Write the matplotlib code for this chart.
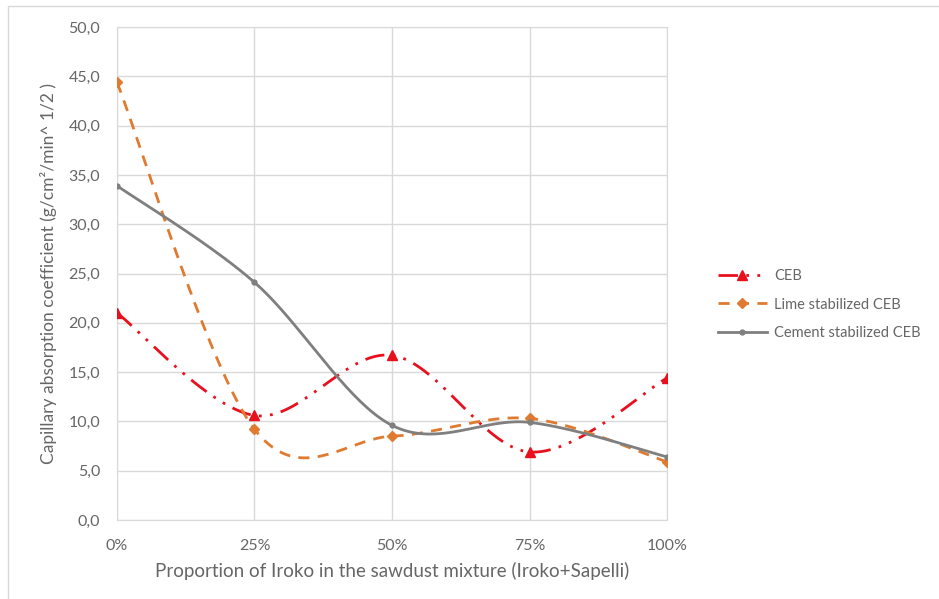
import numpy as np
import matplotlib
matplotlib.use("Agg")
import matplotlib.pyplot as plt
from matplotlib.patches import Rectangle

plt.rcParams['font.family'] = ['Lato', 'DejaVu Sans']

# sawdust mixture proportions and absorption coefficients
proportions = [0, 25, 50, 75, 100]
tick_labels = ['0%', '25%', '50%', '75%', '100%']
ceb = [21.0, 10.6, 16.7, 6.9, 14.4]
lime_ceb = [44.4, 9.2, 8.5, 10.3, 5.9]
cement_ceb = [33.9, 24.1, 9.6, 9.9, 6.4]


def smooth(xs, ys, n=40):
    # cubic bezier segments through every point, like a spreadsheet "smoothed line"
    xs = np.asarray(xs, float)
    ys = np.asarray(ys, float)
    pts = np.column_stack([xs, ys])
    out = [pts[0]]
    for i in range(len(pts) - 1):
        p0 = pts[i - 1] if i > 0 else pts[i]
        p1 = pts[i]
        p2 = pts[i + 1]
        p3 = pts[i + 2] if i + 2 < len(pts) else pts[i + 1]
        c1 = p1 + (p2 - p0) / 6.0
        c2 = p2 - (p3 - p1) / 6.0
        t = np.linspace(0, 1, n)[1:, None]
        seg = ((1 - t) ** 3) * p1 + 3 * ((1 - t) ** 2) * t * c1 + 3 * (1 - t) * t ** 2 * c2 + t ** 3 * p2
        out.extend(seg)
    out = np.array(out)
    return out[:, 0], out[:, 1]


fig = plt.figure(figsize=(9.39, 5.99), dpi=100)
fig.patches.append(Rectangle((8 / 939, -0.01), 0.995, 1 - 6 / 599 + 0.01,
                             transform=fig.transFigure, fill=False,
                             edgecolor='#d9d9d9', linewidth=1))
ax = fig.add_axes([117 / 939, 1 - 520 / 599, 550 / 939, 493 / 599])

grid_col = '#d9d9d9'
text_col = '#666666'

series = [
    (ceb, 'CEB', '#e8101c', (0, (7, 3, 1, 3, 1, 3)), '^', 7),
    (lime_ceb, 'Lime stabilized CEB', '#e07a30', (0, (4, 3)), 'D', 5),
    (cement_ceb, 'Cement stabilized CEB', '#7f7f7f', '-', 'o', 3.5),
]
for vals, name, col, ls, mk, ms in series:
    sx, sy = smooth(proportions, vals)
    ax.plot(sx, sy, color=col, linestyle=ls, linewidth=2, zorder=3)
    ax.plot(proportions, vals, linestyle='none', marker=mk, markersize=ms,
            color=col, zorder=4)
    ax.plot([], [], color=col, linestyle=ls, linewidth=2, marker=mk,
            markersize=ms, label=name)

ax.set_xlim(0, 100)
ax.set_ylim(0, 50)
ax.set_xticks(proportions)
ax.set_xticklabels(tick_labels)
ax.set_yticks(np.arange(0, 51, 5))
ax.set_yticklabels([f'{v:.1f}'.replace('.', ',') for v in np.arange(0, 51, 5)])
ax.grid(True, color=grid_col, linewidth=1)
ax.set_axisbelow(True)
for sp in ax.spines.values():
    sp.set_color(grid_col)
ax.tick_params(length=0, colors=text_col, labelsize=11.5)
ax.tick_params(axis='x', pad=14)
ax.tick_params(axis='y', pad=12)

ax.set_xlabel('Proportion of Iroko in the sawdust mixture (Iroko+Sapelli)',
              color=text_col, fontsize=13.5, labelpad=6)
ax.set_ylabel('Capillary absorption coefficient (g/cm²/min^ 1/2 )',
              color=text_col, fontsize=12.5, labelpad=8)

ax.legend(loc='center left', bbox_to_anchor=(1.068, 0.437), frameon=False,
          fontsize=10.5, labelcolor=text_col, handlelength=3.4, labelspacing=1.0,
          handletextpad=0.5)

fig.savefig('out.png', dpi=100)
